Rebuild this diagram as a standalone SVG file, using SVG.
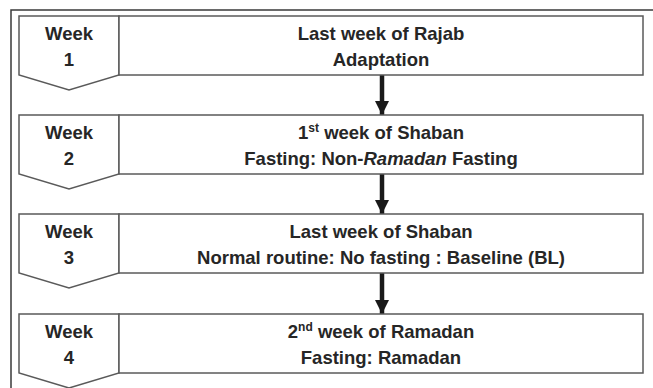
<svg xmlns="http://www.w3.org/2000/svg" width="653" height="388" viewBox="0 0 653 388">
<defs>
<style>
.frame{fill:none;stroke:#3a3a3a;stroke-width:1.5}
.box{fill:#fff;stroke:#5a5a5a;stroke-width:1.5}
.t{font-family:"Liberation Sans",Arial,sans-serif;font-weight:bold;font-size:18.5px;fill:#262626;text-anchor:middle}
.sup{font-size:12px}
.shaft{stroke:#1a1a1a;stroke-width:4.5;fill:none}
</style>
<marker id="ah" markerUnits="userSpaceOnUse" markerWidth="14" markerHeight="15" refX="14" refY="7" orient="auto" viewBox="0 0 14 14">
<path d="M0,0 L14,7 L0,14 Z" fill="#1a1a1a"/>
</marker>
</defs>
<rect width="653" height="388" fill="#fff"/>
<path class="frame" d="M11,400 L11,10 L660,10"/>

<g id="connectors">
<line class="shaft" x1="382" y1="75" x2="382" y2="115" marker-end="url(#ah)"/>
<line class="shaft" x1="382" y1="174" x2="382" y2="214" marker-end="url(#ah)"/>
<line class="shaft" x1="382" y1="273" x2="382" y2="314" marker-end="url(#ah)"/>
</g>

<g id="week1">
<path class="box" d="M19,16 H119 V75 L69,90 L19,75 Z"/>
<text class="t" x="69" y="40">Week</text>
<text class="t" x="69" y="66">1</text>
</g>
<g id="step1">
<rect class="box" x="119" y="16" width="524" height="59"/>
<text class="t" x="381" y="40">Last week of Rajab</text>
<text class="t" x="381" y="66">Adaptation</text>
</g>

<g id="week2">
<path class="box" d="M19,115 H119 V174 L69,189 L19,174 Z"/>
<text class="t" x="69" y="139">Week</text>
<text class="t" x="69" y="165">2</text>
</g>
<g id="step2">
<rect class="box" x="119" y="115" width="524" height="59"/>
<text class="t" x="381" y="139">1<tspan class="sup" dy="-7">st</tspan><tspan dy="7"> week of Shaban</tspan></text>
<text class="t" x="381" y="165">Fasting: Non-<tspan font-style="italic">Ramadan</tspan> Fasting</text>
</g>

<g id="week3">
<path class="box" d="M19,214 H119 V273 L69,288 L19,273 Z"/>
<text class="t" x="69" y="238">Week</text>
<text class="t" x="69" y="264">3</text>
</g>
<g id="step3">
<rect class="box" x="119" y="214" width="524" height="59"/>
<text class="t" x="381" y="238">Last week of Shaban</text>
<text class="t" x="381" y="264">Normal routine: No fasting : Baseline (BL)</text>
</g>

<g id="week4">
<path class="box" d="M19,314 H119 V373 L69,388 L19,373 Z"/>
<text class="t" x="69" y="338">Week</text>
<text class="t" x="69" y="364">4</text>
</g>
<g id="step4">
<rect class="box" x="119" y="314" width="524" height="59"/>
<text class="t" x="381" y="338">2<tspan class="sup" dy="-7">nd</tspan><tspan dy="7"> week of Ramadan</tspan></text>
<text class="t" x="381" y="364">Fasting: Ramadan</text>
</g>
</svg>
